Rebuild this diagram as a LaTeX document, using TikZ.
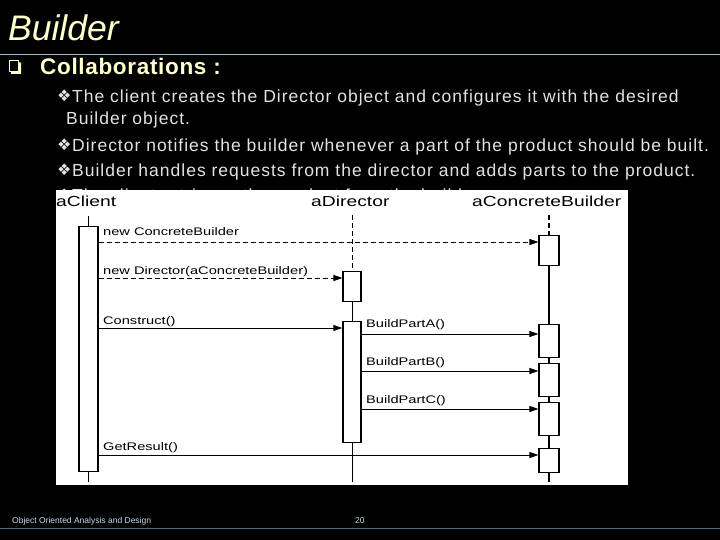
\documentclass[tikz,border=0pt]{standalone}
\usepackage{fontspec}
\usepackage{graphicx}
\setmainfont{Liberation Sans}
\newfontfamily\diagfont[FakeStretch=1.33]{Liberation Sans}
\newfontfamily\bodyfont[LetterSpace=5.7]{Liberation Sans}
\newfontfamily\collabfont[LetterSpace=3]{Liberation Sans}
\newfontfamily\symfont{DejaVu Sans}
\usetikzlibrary{arrows.meta}
\definecolor{titleyellow}{RGB}{255,255,204}
\definecolor{bodygrey}{RGB}{226,226,226}
\definecolor{rulecol}{RGB}{150,190,205}
\definecolor{footcol}{RGB}{200,220,232}
\definecolor{footrule}{RGB}{80,110,125}
\tikzset{
  bodytext/.style={anchor=base west, inner sep=0pt, text=bodygrey, font=\bodyfont\fontsize{17.5}{20}\selectfont},
  bulletmark/.style={anchor=west, inner sep=0pt, text=bodygrey, font=\symfont\fontsize{16}{17}\selectfont},
  header/.style={anchor=base west, inner sep=0pt, text=black, font=\diagfont\fontsize{14.5}{16}\selectfont},
  lbl/.style={anchor=base west, inner sep=0pt, text=black, font=\diagfont\fontsize{11}{12}\selectfont},
  act/.style={draw=black, fill=white, line width=1.1pt, inner sep=0pt, anchor=north, minimum width=19pt},
  lifeline/.style={draw=black, line width=1pt},
  thickline/.style={draw=black, line width=2pt},
  dashline/.style={draw=black, line width=1pt, dash pattern=on 5pt off 3pt},
  msg/.style={draw=black, line width=0.9pt, -{Triangle[length=9pt,width=6pt]}},
  dmsg/.style={msg, dash pattern=on 5pt off 3pt},
  footer/.style={anchor=base west, inner sep=0pt, text=footcol, font=\fontsize{8.5}{10}\selectfont}
}
\begin{document}
\begin{tikzpicture}[x=1pt,y=-1pt]
\useasboundingbox (0,0) rectangle (720,540);
\fill[black] (0,0) rectangle (720,540);
% title
\node[anchor=base west, inner sep=0pt, text=titleyellow, font=\itshape\fontsize{35.5}{38}\selectfont] (title) at (8,41) {Builder};
\draw[rulecol, line width=1pt] (0,55) -- (720,55);
% square bullet
\draw[titleyellow, line width=1.4pt] (9.7,60.7) rectangle (18.5,71.5);
\fill[titleyellow] (18.5,62.5) -- (21,62.5) -- (21,74) -- (11,74) -- (11,71.5) -- (18.5,71.5) -- cycle;
\node[anchor=base west, inner sep=0pt, text=titleyellow, font=\collabfont\bfseries\fontsize{22.5}{26}\selectfont] (collab) at (40,75) {Collaborations :};
% bullet items
\node[bulletmark] (b1m) at (57,96) {❖};
\node[bodytext] (l1) at (72,103) {The client creates the Director object and configures it with the desired};
\node[bodytext] (l2) at (66,125) {Builder object.};
\node[bulletmark] (b3m) at (57,144.5) {❖};
\node[bodytext] (l3) at (72,151.5) {Director notifies the builder whenever a part of the product should be built.};
\node[bulletmark] (b4m) at (57,169.5) {❖};
\node[bodytext] (l4) at (72,176.5) {Builder handles requests from the director and adds parts to the product.};
\node[bulletmark] (b5m) at (57,194.5) {❖};
\node[bodytext] (l5) at (72,201.5) {The client retrieves the product from the builder.};
% diagram panel
\fill[white] (56,190) rectangle (628,485);
\node[header] (hc) at (56,207) {aClient};
\node[header] (hd) at (311,207) {aDirector};
\node[header] (hb) at (472,207) {aConcreteBuilder};
% activation boxes
\node[act, minimum height=245pt, line width=1.4pt] (c1) at (88.5,226) {};
\node[act, minimum width=18pt, minimum height=30pt] (d1) at (352,271) {};
\node[act, minimum width=18pt, minimum height=121pt, line width=1.4pt] (d2) at (352,321) {};
\node[act, minimum width=20pt, minimum height=30pt] (k1) at (549,235) {};
\node[act, minimum width=20pt, minimum height=33pt] (k2) at (549,324) {};
\node[act, minimum width=20pt, minimum height=33pt] (k3) at (549,363) {};
\node[act, minimum width=20pt, minimum height=33pt] (k4) at (549,402) {};
\node[act, minimum width=20pt, minimum height=24pt] (k5) at (549,448) {};
% lifeline ends
\coordinate (ctop) at (88.5,216);
\coordinate (cbot) at (88.5,482);
\coordinate (dtop) at (352,215);
\coordinate (dbot) at (352,482);
\coordinate (ktop) at (549,215);
\coordinate (kbot) at (549,482);
% lifelines
\draw[thickline, line width=1.6pt] (ctop) -- (c1.north);
\draw[thickline, line width=1.6pt] (c1.south) -- (cbot);
\draw[dashline] (dtop) -- (d1.north);
\draw[lifeline] (d1.south) -- (d2.north);
\draw[lifeline] (d2.south) -- (dbot);
\draw[dashline, line width=1.6pt] (ktop) -- (k1.north);
\draw[thickline] (k1.south) -- (k2.north);
\draw[thickline] (k2.south) -- (k3.north);
\draw[thickline] (k3.south) -- (k4.north);
\draw[thickline] (k4.south) -- (k5.north);
\draw[thickline] (k5.south) -- (kbot);
% message heights
\coordinate (m1) at (0,242);
\coordinate (m2) at (0,278);
\coordinate (m3) at (0,328);
\coordinate (m4) at (0,334);
\coordinate (m5) at (0,371);
\coordinate (m6) at (0,409);
\coordinate (m7) at (0,455);
% messages
\draw[dmsg] (c1.east |- m1) -- node[lbl, at start, xshift=4pt, yshift=6.5pt] {new ConcreteBuilder} (k1.west |- m1);
\draw[dmsg] (c1.east |- m2) -- node[lbl, at start, xshift=4pt, yshift=4pt] {new Director(aConcreteBuilder)} (d1.west |- m2);
\draw[msg] (c1.east |- m3) -- node[lbl, at start, xshift=4pt, yshift=3.5pt] {Construct()} (d2.west |- m3);
\draw[msg] (d2.east |- m4) -- node[lbl, at start, xshift=4pt, yshift=6.5pt] {BuildPartA()} (k2.west |- m4);
\draw[msg] (d2.east |- m5) -- node[lbl, at start, xshift=4pt, yshift=6pt] {BuildPartB()} (k3.west |- m5);
\draw[msg] (d2.east |- m6) -- node[lbl, at start, xshift=4pt, yshift=6pt] {BuildPartC()} (k4.west |- m6);
\draw[msg] (c1.east |- m7) -- node[lbl, at start, xshift=4pt, yshift=5pt] {GetResult()} (k5.west |- m7);
% footer
\node[footer] (f1) at (12,523) {Object Oriented Analysis and Design};
\node[footer] (f2) at (355,523) {20};
\draw[footrule, line width=1pt] (0,528) -- (720,528);
\end{tikzpicture}
\end{document}
